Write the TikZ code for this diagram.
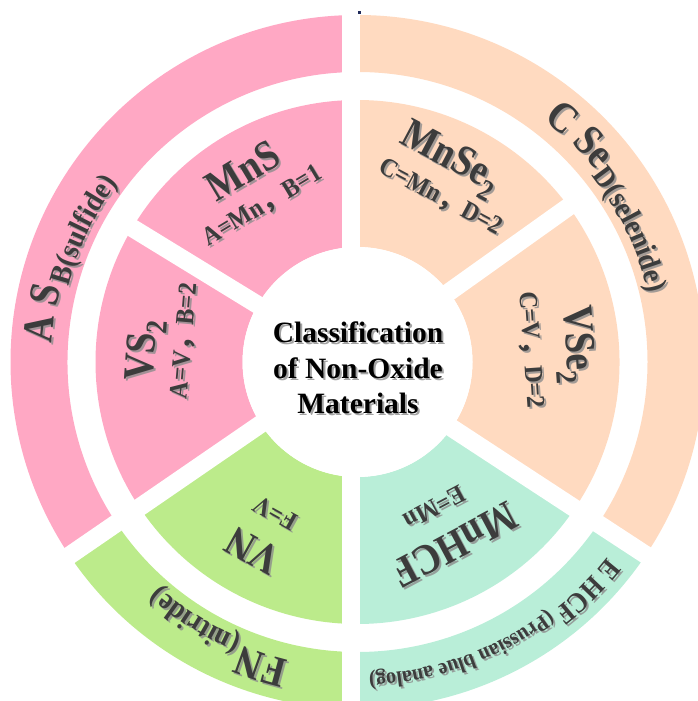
\documentclass[tikz,border=0pt]{standalone}
\usepackage{fontspec}
\usepackage{graphicx}
\setmainfont{Liberation Serif}
\newfontfamily\waf[FakeStretch=0.87]{Liberation Serif}
\newfontfamily\wab[FakeStretch=0.92]{Liberation Serif}
\newfontfamily\cjkfont{Noto Sans CJK SC}
\usetikzlibrary{decorations.text}
\definecolor{pinkc}{HTML}{FFA8C4}
\definecolor{peachc}{HTML}{FFDAC0}
\definecolor{greenc}{HTML}{BCEB8B}
\definecolor{mintc}{HTML}{B9EED8}
\definecolor{txtc}{HTML}{3C3C3C}
\definecolor{shadc}{HTML}{8C8C8C}
\definecolor{navyc}{HTML}{1F2A5A}
\newcommand{\bigf}[1]{\waf\fontsize{#1}{#1}\selectfont\bfseries}
\newcommand{\smallf}[1]{\wab\fontsize{#1}{#1}\selectfont\bfseries}
\newcommand{\cjkcomma}{{\cjkfont ，}}
\tikzset{
  gapline/.style={white, line width=18pt},
  seclab/.style={text=txtc, inner sep=0pt},
  shadlab/.style={text=shadc, inner sep=0pt, opacity=0.8},
}
% ring segment: colour, inner r, outer r, start, end
\newcommand{\ringseg}[5]{%
  \fill[#1] ([shift={(#4:#3pt)}]C) arc[start angle=#4,end angle=#5,radius=#3pt]
    -- ([shift={(#5:#2pt)}]C) arc[start angle=#5,end angle=#4,radius=#2pt] -- cycle;}
% text along an arc (clockwise): radius, start, end, text
\newcommand{\arctext}[4]{%
  \begin{scope}[transform canvas={shift={(2pt,-2pt)}}, opacity=0.8]
  \path[decorate,decoration={text along path,text align=left,text color=shadc,text={#4}}]
    ([shift={(#2:#1pt)}]C) arc[start angle=#2,end angle=#3,radius=#1pt];
  \end{scope}
  \path[decorate,decoration={text along path,text align=left,text color=txtc,text={#4}}]
    ([shift={(#2:#1pt)}]C) arc[start angle=#2,end angle=#3,radius=#1pt];}
% straight sector label: name, angle, radius, rotation, content
\newcommand{\slab}[5]{%
  \node[shadlab,rotate=#4] (#1s) at ([shift={(#2:#3pt)},xshift=2pt,yshift=-2pt]C) {#5};
  \node[seclab,rotate=#4] (#1) at ([shift={(#2:#3pt)}]C) {#5};}
\begin{document}
\begin{tikzpicture}[x=1pt,y=1pt]
\useasboundingbox (0,0) rectangle (698,701);
\clip (0,0) rectangle (698,701);
\coordinate (C) at (357.5,339);
\coordinate (G) at (351,339);
% rings
\ringseg{pinkc}{290}{347}{90}{214.5}
\ringseg{pinkc}{115}{262}{90}{214.5}
\ringseg{greenc}{290}{347}{214.5}{270}
\ringseg{greenc}{115}{262}{214.5}{270}
\ringseg{mintc}{290}{347}{270}{326.8}
\ringseg{mintc}{115}{262}{270}{326.8}
\ringseg{peachc}{290}{347}{326.8}{450}
\ringseg{peachc}{115}{262}{326.8}{450}
% gaps
\draw[gapline] (G) -- ++(90:380pt);
\draw[gapline] (G) -- ++(270:380pt);
\draw[gapline] (G) -- ++(214.5:380pt);
\draw[gapline] (G) -- ++(326.8:380pt);
\draw[gapline] (G) -- ++(148.5:276pt);
\draw[gapline] (G) -- ++(35.5:276pt);
\fill[white] (C) circle[radius=115pt];
% tiny mark at top
\fill[navyc] (358,687) rectangle (360.5,689.5);
% outer ring labels
\arctext{306}{176.5}{150}{|\bigf{43}|A S}
\arctext{299}{165.3}{120}{|\smallf{30}|B(sulfide)}
\arctext{306}{52.5}{30}{|\bigf{43}|C Se}
\arctext{299}{38.6}{0}{|\smallf{30}|D(selenide)}
\arctext{306}{257}{235}{|\bigf{43}|FN}
\arctext{300}{247.2}{200}{|\smallf{30}|(nitride)}
\arctext{317}{322}{300}{|\bigf{29}|E HCF}
\arctext{313}{307.5}{260}{|\smallf{22}|(Prussian blue analog)}
% inner ring labels
\slab{mns}{121}{223}{31}{\bigf{43}MnS}
\slab{mnsb}{121.4}{182}{31}{\smallf{26}A=Mn\cjkcomma B=1}
\slab{mnse}{65.4}{222}{-28}{\bigf{43}MnSe\textsubscript{2}}
\slab{mnseb}{63.2}{184}{-28}{\smallf{26}C=Mn\cjkcomma D=2}
\slab{vs}{176.7}{212}{86}{\bigf{43}VS\textsubscript{2}}
\slab{vsb}{173}{174}{85}{\smallf{26}A=V\cjkcomma B=2}
\slab{vse}{4.5}{218}{-86}{\bigf{43}VSe\textsubscript{2}}
\slab{vseb}{4}{173}{-86}{\smallf{26}C=V\cjkcomma D=2}
\slab{mnhcf}{298}{207}{208}{\bigf{43}MnHCF}
\slab{mnhcfb}{298}{165}{208}{\smallf{26}E=Mn}
\slab{vn}{241}{215}{151}{\bigf{43}VN}
\slab{vnb}{241.4}{172}{151}{\smallf{26}F=V}
% centre title
\node[align=center, text=shadc, opacity=0.8, font=\fontsize{29.5}{35.5}\selectfont\bfseries] (titles) at (360,331) {Classification\\of Non-Oxide\\Materials};
\node[align=center, text=black, font=\fontsize{29.5}{35.5}\selectfont\bfseries] (title) at (358,333) {Classification\\of Non-Oxide\\Materials};
\end{tikzpicture}
\end{document}
